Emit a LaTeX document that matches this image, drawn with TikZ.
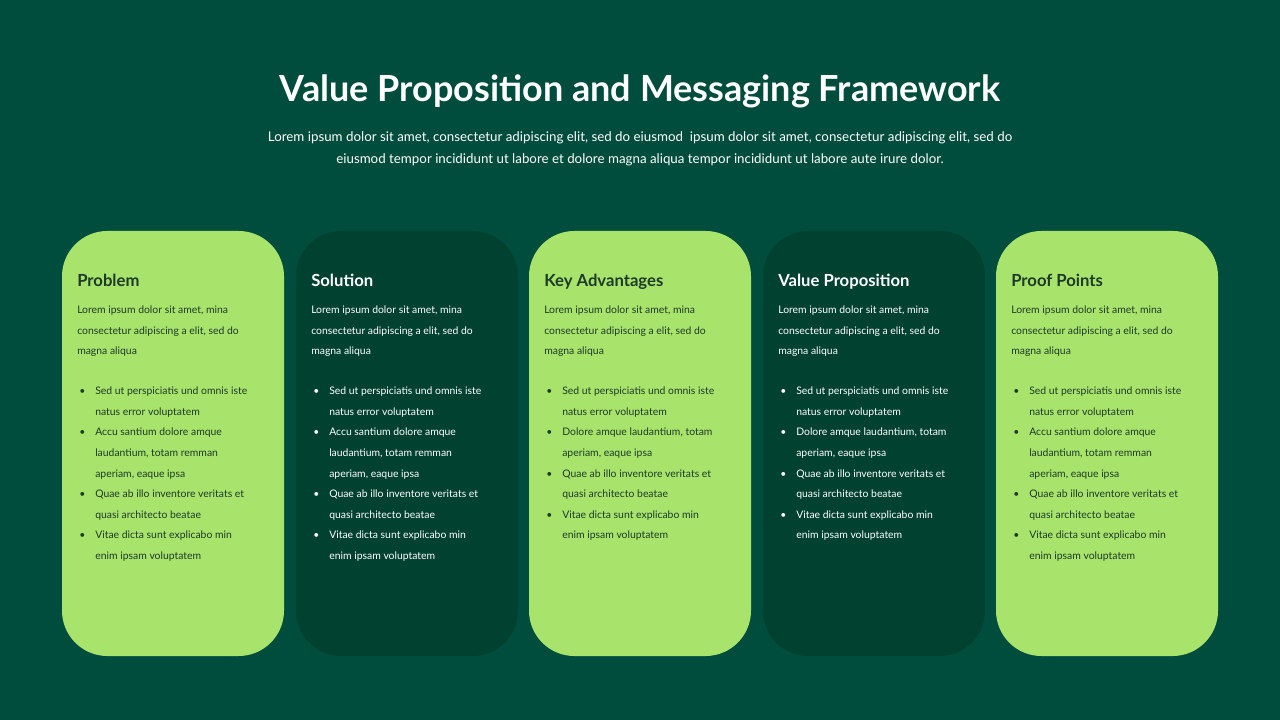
\documentclass[tikz,border=0pt]{standalone}
\usepackage{fontspec}
\setmainfont{Lato}
\definecolor{bgGreen}{HTML}{004D3D}
\definecolor{lightCard}{HTML}{A8E36C}
\definecolor{darkCard}{HTML}{00412F}
\definecolor{inkDark}{HTML}{1E3A28}
\newcommand\bl{\makebox[12pt][l]{\textbullet}}
\newcommand\ind{\hspace*{12pt}}
\newcommand\paratext{Lorem ipsum dolor sit amet, mina\\consectetur adipiscing a elit, sed do\\magna aliqua}
\newcommand\bulletsA{\bl Sed ut perspiciatis und omnis iste\\\ind natus error voluptatem\\
\bl Accu santium dolore amque\\\ind laudantium, totam remman\\\ind aperiam, eaque ipsa\\
\bl Quae ab illo inventore veritats et\\\ind quasi architecto beatae\\
\bl Vitae dicta sunt explicabo min\\\ind enim ipsam voluptatem}
\newcommand\bulletsB{\bl Sed ut perspiciatis und omnis iste\\\ind natus error voluptatem\\
\bl Dolore amque laudantium, totam\\\ind aperiam, eaque ipsa\\
\bl Quae ab illo inventore veritats et\\\ind quasi architecto beatae\\
\bl Vitae dicta sunt explicabo min\\\ind enim ipsam voluptatem}
\tikzset{
  card/.style={rounded corners=34pt, fill=#1},
  head/.style={anchor=base west, font=\fontsize{12.5}{15}\selectfont\bfseries},
  body/.style={anchor=north west, align=left, inner sep=0pt,
    font=\fontsize{7.8}{15.4}\selectfont},
}
\begin{document}
\begin{tikzpicture}[x=0.75pt,y=-0.75pt]
  % Background
  \fill[bgGreen] (0,0) rectangle (1280,720);
  \useasboundingbox (0,0) rectangle (1280,720);

  % Title and intro
  \node[text=white, font=\fontsize{27}{32}\selectfont\bfseries] (title) at (640,91) {Value Proposition and Messaging Framework};
  \node[text=white, align=center, font=\fontsize{10}{16.5}\selectfont] (intro) at (640,149)
    {Lorem ipsum dolor sit amet, consectetur adipiscing elit, sed do eiusmod\ \ ipsum dolor sit amet, consectetur adipiscing elit, sed do\\
     eiusmod tempor incididunt ut labore et dolore magna aliqua tempor incididunt ut labore aute irure dolor.};

  % Cards
  \foreach \i/\cx/\cfill/\ctext/\chead/\clist in {
      1/62/lightCard/inkDark/Problem/\bulletsA,
      2/296/darkCard/white/Solution/\bulletsA,
      3/529/lightCard/inkDark/Key Advantages/\bulletsB,
      4/763/darkCard/white/Value Proposition/\bulletsB,
      5/996/lightCard/inkDark/Proof Points/\bulletsA}{
    \fill[card=\cfill] (\cx,231) rectangle ++(222,425);
    \node[head, text=\ctext, inner sep=0pt] (head\i) at (\cx+15,286) {\chead};
    \node[body, text=\ctext] (para\i) at (\cx+15,306) {\paratext};
    \node[body, text=\ctext] (list\i) at (\cx+17,387) {\clist};
  }
\end{tikzpicture}
\end{document}
